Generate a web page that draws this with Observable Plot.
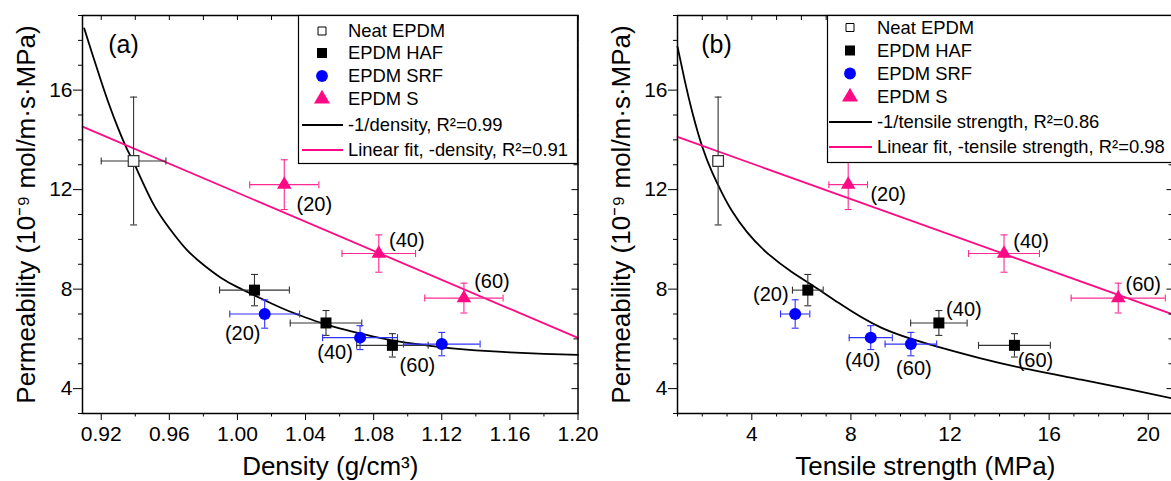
<!DOCTYPE html>
<html><head><meta charset="utf-8">
<script src="https://cdn.jsdelivr.net/npm/d3@7"></script>
<script src="https://cdn.jsdelivr.net/npm/@observablehq/plot@0.6"></script>
<style>
html,body{margin:0;padding:0;background:#fff;overflow:hidden;}
#wrap{position:relative;width:1171px;height:481px;overflow:hidden;font-family:"Liberation Sans",Arial,sans-serif;}
.panel{position:absolute;top:0;}
.legend{position:absolute;top:0;overflow:visible;}
g[aria-label="x-axis label"], g[aria-label="y-axis label"]{font-size:26px;}
</style>
</head><body><div id="wrap"></div>
<script>
// ---------------- data ----------------
const yDomain = [3, 19];
const permTicks = [4, 8, 12, 16];
const permMinorTicks = [3, 5, 6, 7, 9, 10, 11, 13, 14, 15, 17, 18, 19];
const loadingLabels = ["(20)", "(40)", "(60)"];
const seriesNames = ["Neat EPDM", "EPDM HAF", "EPDM SRF", "EPDM S"];

// Permeability (10^-9 mol/m·s·MPa), shared by both panels
const neatPerm = [13.15], neatPermErr = [2.57];
const hafPerm = [7.96, 6.64, 5.74], hafPermErr = [0.63, 0.50, 0.47];
const srfPerm = [7.00, 6.05, 5.79], srfPermErr = [0.57, 0.48, 0.47];
const sPerm = [12.20, 9.43, 7.64], sPermErr = [1.00, 0.75, 0.60];

// Panel (a): density (g/cm3)
const neatDensity = [0.939], neatDensityErr = [0.019];
const hafDensity = [1.010, 1.052, 1.091], hafDensityErr = [0.0205, 0.021, 0.021];
const srfDensity = [1.016, 1.072, 1.120], srfDensityErr = [0.0205, 0.022, 0.0225];
const sDensity = [1.0275, 1.083, 1.133], sDensityErr = [0.0203, 0.0216, 0.023];
const densityTicks = [0.92, 0.96, 1.00, 1.04, 1.08, 1.12, 1.16, 1.20];
const densityMinorTicks = [0.94, 0.98, 1.02, 1.06, 1.10, 1.14, 1.18];
const densityTopTicks = [0.92, 0.94, 0.96, 0.98, 1.00, 1.02, 1.04, 1.06, 1.08, 1.10, 1.12, 1.14, 1.16, 1.18, 1.20];
const densityFitX = [0.910, 0.915, 0.920, 0.925, 0.930, 0.935, 0.940, 0.950, 0.960, 0.970, 0.980, 0.990, 1.000, 1.010, 1.020, 1.030, 1.040, 1.050, 1.060, 1.070, 1.080, 1.090, 1.100, 1.120, 1.140, 1.160, 1.180, 1.200];
const densityFitY = [18.48, 17.40, 16.35, 15.35, 14.45, 13.65, 12.95, 11.50, 10.45, 9.60, 8.98, 8.47, 8.08, 7.75, 7.42, 7.12, 6.86, 6.62, 6.42, 6.25, 6.09, 5.95, 5.84, 5.66, 5.54, 5.46, 5.40, 5.36];
const densityLinX = [0.909, 1.20], densityLinY = [14.53, 6.04];
const densityLegend = ["Neat EPDM", "EPDM HAF", "EPDM SRF", "EPDM S", "-1/density, R²=0.99", "Linear fit, -density, R²=0.91"];

// Panel (b): tensile strength (MPa)
const neatTensile = [2.64], neatTensileErr = [0.2];
const hafTensile = [6.26, 11.55, 14.60], hafTensileErr = [0.62, 1.14, 1.45];
const srfTensile = [5.75, 8.80, 10.42], srfTensileErr = [0.59, 0.87, 1.04];
const sTensile = [7.89, 14.18, 18.79], sTensileErr = [0.78, 1.43, 1.90];
const tensileTicks = [4, 8, 12, 16, 20];
const tensileMinorTicks = [1, 2, 3, 5, 6, 7, 9, 10, 11, 13, 14, 15, 17, 18, 19, 21];
const tensileTopTicks = [1, 2, 3, 4, 5, 6, 7, 8, 9, 10, 11, 12, 13, 14, 15, 16, 17, 18, 19, 20, 21];
const tensileFitX = [1.0, 1.3, 1.6, 2.0, 2.4, 2.8, 3.2, 3.8, 4.6, 5.6, 6.5, 7.5, 9.2, 11.2, 13.2, 15.2, 17.3, 19.3, 21.0];
const tensileFitY = [17.75, 16.35, 15.10, 13.72, 12.69, 11.86, 11.14, 10.30, 9.47, 8.70, 8.12, 7.45, 6.46, 5.77, 5.23, 4.77, 4.36, 3.96, 3.60];
const tensileLinX = [1, 21], tensileLinY = [14.12, 6.98];
const tensileLegend = ["Neat EPDM", "EPDM HAF", "EPDM SRF", "EPDM S", "-1/tensile strength, R²=0.86", "Linear fit, -tensile strength, R²=0.98"];

// ---------------- styles ----------------
const PINK = "#ff0a84", BLUE = "#0000ff";
const FONT = "Liberation Sans, Arial, sans-serif";
const capH = {draw(ctx) { ctx.moveTo(-3.5, 0); ctx.lineTo(3.5, 0); }};
const capV = {draw(ctx) { ctx.moveTo(0, -3.5); ctx.lineTo(0, 3.5); }};

const toPts = (xs, xe, ys, ye) => xs.map((x, i) => ({x, ex: xe[i], y: ys[i], ey: ye[i], i}));

function errorMarks(s, c) {
  const o = {stroke: c, strokeWidth: 1.1};
  return [
    Plot.ruleX(s, {x: "x", y1: d => d.y - d.ey, y2: d => d.y + d.ey, ...o}),
    Plot.ruleY(s, {y: "y", x1: d => d.x - d.ex, x2: d => d.x + d.ex, ...o}),
    Plot.dot(s, {x: "x", y: d => d.y + d.ey, symbol: capH, fill: "none", ...o}),
    Plot.dot(s, {x: "x", y: d => d.y - d.ey, symbol: capH, fill: "none", ...o}),
    Plot.dot(s, {x: d => d.x - d.ex, y: "y", symbol: capV, fill: "none", ...o}),
    Plot.dot(s, {x: d => d.x + d.ex, y: "y", symbol: capV, fill: "none", ...o})
  ];
}

function panel(cfg) {
  const neat = toPts(cfg.neatX, cfg.neatXe, neatPerm, neatPermErr);
  const haf = toPts(cfg.hafX, cfg.hafXe, hafPerm, hafPermErr);
  const srf = toPts(cfg.srfX, cfg.srfXe, srfPerm, srfPermErr);
  const s = toPts(cfg.sX, cfg.sXe, sPerm, sPermErr);
  const series = {haf, srf, s};
  const fit = cfg.fitX.map((x, i) => ({x, y: cfg.fitY[i]}));
  const lin = cfg.linX.map((x, i) => ({x, y: cfg.linY[i]}));
  const blank = () => "";
  const labelMarks = cfg.labels.map(L => Plot.text([series[L.s][L.i]], {
    x: "x", y: "y", text: d => loadingLabels[d.i], dx: L.dx, dy: L.dy,
    fontSize: 20, fill: "#000", textAnchor: "middle", lineAnchor: "middle"
  }));
  return Plot.plot({
    width: cfg.width, height: 481,
    marginTop: 15, marginBottom: 68, marginLeft: cfg.marginLeft, marginRight: cfg.marginRight,
    x: {domain: cfg.xDomain},
    y: {domain: yDomain},
    style: {fontFamily: FONT, fontSize: "21px", color: "#000", background: "transparent", overflow: "visible"},
    marks: [
      Plot.line(fit, {x: "x", y: "y", stroke: "#000", strokeWidth: 1.8, curve: "natural"}),
      Plot.line(lin, {x: "x", y: "y", stroke: PINK, strokeWidth: 1.8}),
      ...errorMarks(neat, "#333"),
      ...errorMarks(haf, "#333"),
      ...errorMarks(srf, "#3030ff"),
      ...errorMarks(s, "#ff2a92"),
      Plot.dot(neat, {x: "x", y: "y", symbol: "square", r: 6, fill: "#fff", stroke: "#333", strokeWidth: 1.2}),
      Plot.dot(haf, {x: "x", y: "y", symbol: "square", r: 6.2, fill: "#000"}),
      Plot.dot(srf, {x: "x", y: "y", symbol: "circle", r: 6, fill: BLUE}),
      Plot.dot(s, {x: "x", y: "y", symbol: "triangle", r: 5.4, fill: PINK}),
      ...labelMarks,
      Plot.axisX(cfg.xTicks, {anchor: "bottom", tickSize: 7, tickPadding: 6, tickFormat: cfg.xFormat, fontSize: 21,
        label: cfg.xLabel, labelAnchor: "center", labelArrow: "none", labelOffset: 61}),
      Plot.axisX(cfg.xMinor, {anchor: "bottom", tickSize: 3.5, tickFormat: blank, label: null}),
      Plot.axisX(cfg.xTop, {anchor: "top", tickSize: -4, tickFormat: blank, label: null}),
      Plot.axisY(permTicks, {anchor: "left", tickSize: 9, tickPadding: 1, fontSize: 21,
        label: "Permeability (10⁻⁹ mol/m·s·MPa)", labelAnchor: "center", labelArrow: "none", labelOffset: 66}),
      Plot.axisY(permMinorTicks, {anchor: "left", tickSize: 4, tickFormat: blank, label: null}),
      Plot.axisY(permTicks, {anchor: "right", tickSize: -7, tickFormat: blank, label: null}),
      Plot.axisY(permMinorTicks, {anchor: "right", tickSize: -5, tickFormat: blank, label: null}),
      Plot.frame({stroke: "#000", strokeWidth: 1.5}),
      Plot.text([cfg.letter], {frameAnchor: "top-left", dx: cfg.letterDx, dy: 29, fontSize: 25,
        textAnchor: "middle", lineAnchor: "middle", fill: "#000"})
    ]
  });
}

function legend(parent, cfg) {
  const svg = d3.select(parent).append("svg").attr("class", "legend")
    .style("left", cfg.left + "px").style("top", cfg.top + "px")
    .attr("width", cfg.width).attr("height", cfg.height + 2)
    .style("font-family", FONT).style("font-size", "18.4px");
  svg.append("rect").attr("x", 0.5).attr("y", 0.5).attr("width", cfg.width - 1).attr("height", cfg.height)
    .attr("fill", "#fff").attr("stroke", "#000").attr("stroke-width", 1.2);
  const sym = [
    {type: d3.symbolSquare, size: 64, fill: "#fff", stroke: "#000"},
    {type: d3.symbolSquare, size: 100, fill: "#000", stroke: "none"},
    {type: d3.symbolCircle, size: 110, fill: BLUE, stroke: "none"},
    {type: d3.symbolTriangle, size: 110, fill: PINK, stroke: "none"}
  ];
  cfg.labels.forEach((lab, i) => {
    const y = cfg.rowY[i];
    if (i < 4) {
      svg.append("path").attr("d", d3.symbol(sym[i].type, sym[i].size)())
        .attr("transform", `translate(${cfg.markerX},${y})`)
        .attr("fill", sym[i].fill).attr("stroke", sym[i].stroke).attr("stroke-width", 1);
    } else {
      svg.append("line").attr("x1", cfg.lineX1).attr("x2", cfg.lineX2).attr("y1", y).attr("y2", y)
        .attr("stroke", i === 4 ? "#000" : PINK).attr("stroke-width", 1.8);
    }
    svg.append("text").attr("x", cfg.textX).attr("y", y).attr("dy", "0.35em").attr("fill", "#000").text(lab);
  });
}

const wrap = document.getElementById("wrap");

const a = panel({
  width: 590, marginLeft: 82, marginRight: 12.5,
  xDomain: [0.909, 1.20], xTicks: densityTicks, xMinor: densityMinorTicks, xTop: densityTopTicks,
  xFormat: d3.format(".2f"), xLabel: "Density (g/cm³)",
  neatX: neatDensity, neatXe: neatDensityErr, hafX: hafDensity, hafXe: hafDensityErr,
  srfX: srfDensity, srfXe: srfDensityErr, sX: sDensity, sXe: sDensityErr,
  fitX: densityFitX, fitY: densityFitY, linX: densityLinX, linY: densityLinY,
  letter: "(a)", letterDx: 41,
  labels: [
    {s: "s", i: 0, dx: 30, dy: 20}, {s: "s", i: 1, dx: 28, dy: -13}, {s: "s", i: 2, dx: 28, dy: -16},
    {s: "srf", i: 0, dx: -22, dy: 20}, {s: "srf", i: 1, dx: -25, dy: 15}, {s: "haf", i: 2, dx: 25, dy: 20}
  ]
});
a.classList.add("panel"); a.style.left = "0px";
wrap.appendChild(a);

const b = panel({
  width: 600, marginLeft: 87, marginRight: 17.5,
  xDomain: [1, 21], xTicks: tensileTicks, xMinor: tensileMinorTicks, xTop: tensileTopTicks,
  xFormat: d3.format("d"), xLabel: "Tensile strength (MPa)",
  neatX: neatTensile, neatXe: neatTensileErr, hafX: hafTensile, hafXe: hafTensileErr,
  srfX: srfTensile, srfXe: srfTensileErr, sX: sTensile, sXe: sTensileErr,
  fitX: tensileFitX, fitY: tensileFitY, linX: tensileLinX, linY: tensileLinY,
  letter: "(b)", letterDx: 39,
  labels: [
    {s: "s", i: 0, dx: 40, dy: 10}, {s: "s", i: 1, dx: 27, dy: -12}, {s: "s", i: 2, dx: 25, dy: -13},
    {s: "haf", i: 0, dx: -37, dy: 4}, {s: "haf", i: 1, dx: 25, dy: -13}, {s: "haf", i: 2, dx: 21, dy: 15},
    {s: "srf", i: 1, dx: -8, dy: 23}, {s: "srf", i: 2, dx: 3, dy: 24}
  ]
});
b.classList.add("panel"); b.style.left = "590px";
wrap.appendChild(b);

legend(wrap, {left: 298, top: 15, width: 280, height: 148, labels: densityLegend,
  rowY: [16, 38, 61, 84, 110, 135], markerX: 24, lineX1: 4, lineX2: 45, textX: 50});
legend(wrap, {left: 827, top: 14.5, width: 350, height: 147, labels: tensileLegend,
  rowY: [12.5, 35.5, 58.5, 82, 107, 132], markerX: 23, lineX1: 2, lineX2: 45, textX: 50});
</script>
</body></html>
